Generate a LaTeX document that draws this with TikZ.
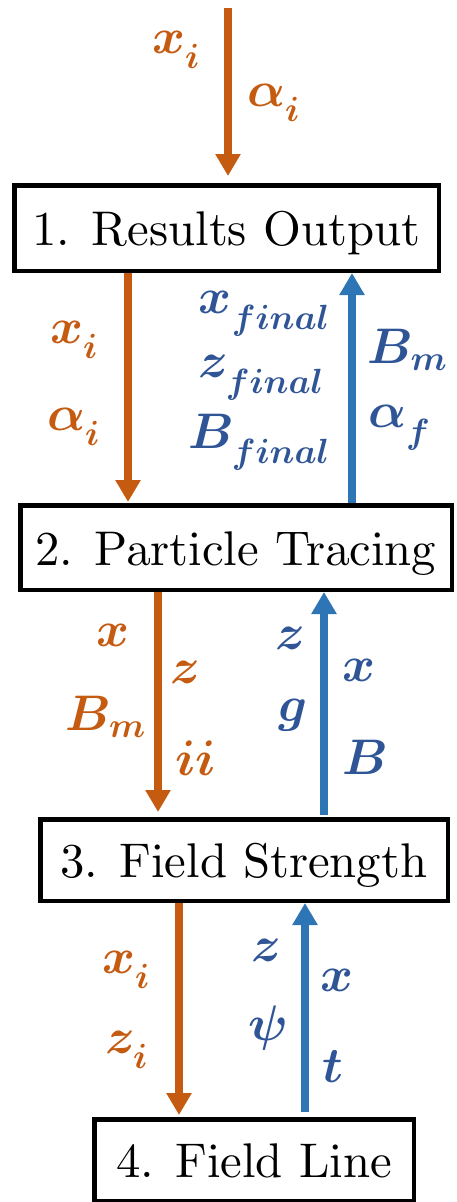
\documentclass[tikz,border=0pt]{standalone}
\DeclareFontFamily{OML}{cmm}{\skewchar\font127}
\DeclareFontShape{OML}{cmm}{m}{it}{<->cmmi10}{}
\DeclareFontShape{OML}{cmm}{b}{it}{<->cmmib10}{}
\DeclareFontFamily{OT1}{boxrm}{}
\DeclareFontShape{OT1}{boxrm}{m}{n}{<->cmr10}{}
\usetikzlibrary{arrows.meta}
\definecolor{orng}{HTML}{C55A11}
\definecolor{barrow}{HTML}{2E75B6}
\definecolor{btxt}{HTML}{2F5597}
\begin{document}
\begin{tikzpicture}[x=1pt,y=-1pt,
  box/.style={draw=black,line width=4.5pt,inner sep=0pt,font=\usefont{OT1}{boxrm}{m}{n}\fontsize{48.7}{56}\selectfont,text height=35pt,text depth=0pt},
  oarr/.style={draw=orng,line width=8pt,-{Triangle[width=24pt,length=22pt]}},
  barr/.style={draw=barrow,line width=8pt,-{Triangle[width=24pt,length=22pt]}},
  ol/.style={text=orng,inner sep=0pt,font=\fontsize{50}{56}\selectfont\boldmath},
  bl/.style={text=btxt,inner sep=0pt,font=\fontsize{50}{56}\selectfont\boldmath}]
\useasboundingbox (0,0) rectangle (457,1202);
% boxes
\node[box,minimum width=424.5pt,minimum height=85.5pt] (b1) at (226.5,228) {1. Results Output};
\node[box,minimum width=431.5pt,minimum height=84.5pt] (b2) at (236,547.5) {2. Particle Tracing};
\node[box,minimum width=407.5pt,minimum height=81.5pt] (b3) at (244,860) {3. Field Strength};
\node[box,minimum width=319.5pt,minimum height=81.5pt] (b4) at (254,1160) {4. Field Line};
% input arrow
\coordinate (in) at (228,8);
\draw[oarr,shorten >=7pt] (in) -- (b1.north -| in);
\node[ol,anchor=east] (l0a) at (200,50) {$x_i$};
\node[ol,anchor=west] (l0b) at (247,103) {$\alpha_i$};
% 1 <-> 2
\draw[oarr,shorten >=1pt] (b1.south -| 128,0) -- (b2.north -| 128,0);
\draw[barr] (b2.north -| 352,0) -- (b1.south -| 352,0);
\node[ol,anchor=east] (l1a) at (98,340) {$x_i$};
\node[ol,anchor=east] (l1b) at (100,427) {$\alpha_i$};
\node[bl,anchor=east] (l1c) at (330,314) {$x_{final}$};
\node[bl,anchor=east] (l1d) at (324,378) {$z_{final}$};
\node[bl,anchor=east] (l1e) at (330,442) {$B_{final}$};
\node[bl,anchor=west] (l1f) at (367,350) {$B_m$};
\node[bl,anchor=west] (l1g) at (368,428) {$\alpha_f$};
% 2 <-> 3
\draw[oarr,shorten >=5pt] (b2.south -| 158,0) -- (b3.north -| 158,0);
\draw[barr,shorten <=2pt] (b3.north -| 324,0) -- (b2.south -| 324,0);
\node[ol,anchor=east] (l2a) at (130,635) {$x$};
\node[ol,anchor=west] (l2b) at (170,672) {$z$};
\node[ol,anchor=east] (l2c) at (146,717) {$B_m$};
\node[ol,anchor=west] (l2d) at (175,758) {$ii$};
\node[bl,anchor=east] (l2e) at (306,638) {$z$};
\node[bl,anchor=west] (l2f) at (342,670) {$x$};
\node[bl,anchor=east] (l2g) at (308,715) {$g$};
\node[bl,anchor=west] (l2h) at (342,757) {$B$};
% 3 <-> 4
\draw[oarr,shorten >=2pt] (b3.south -| 179,0) -- (b4.north -| 179,0);
\draw[barr,shorten <=5pt] (b4.north -| 305,0) -- (b3.south -| 305,0);
\node[ol,anchor=east] (l3a) at (150,970) {$x_i$};
\node[ol,anchor=east] (l3b) at (148,1050) {$z_i$};
\node[bl,anchor=east] (l3c) at (282,950) {$z$};
\node[bl,anchor=west] (l3d) at (320,980) {$x$};
\node[bl,anchor=east] (l3e) at (288,1028) {$\psi$};
\node[bl,anchor=west] (l3f) at (322,1067) {$t$};
\end{tikzpicture}
\end{document}
